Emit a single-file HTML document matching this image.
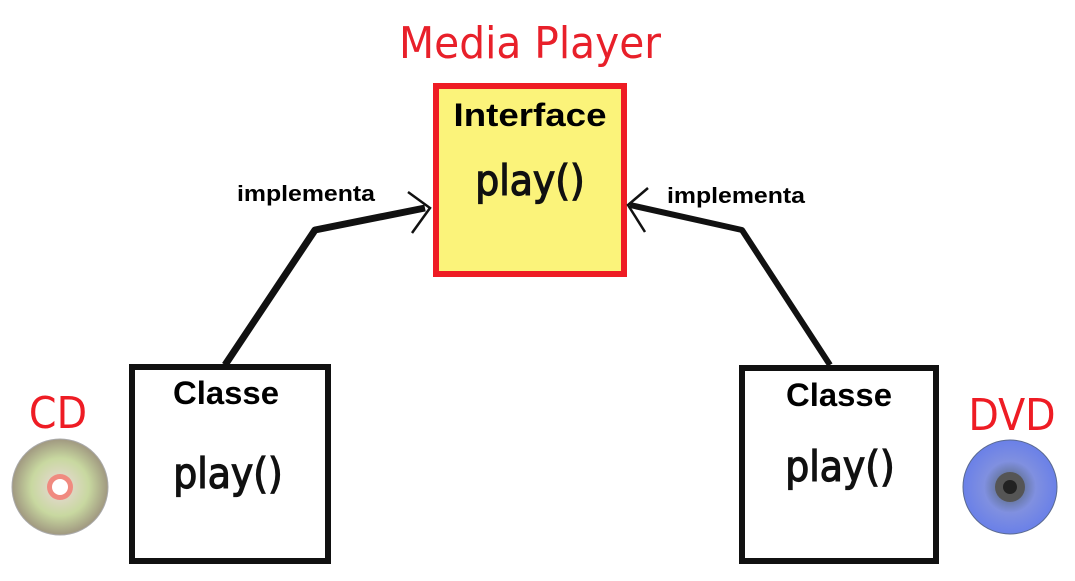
<!DOCTYPE html>
<html><head><meta charset="utf-8"><style>
html,body{margin:0;padding:0;background:#fff;width:1075px;height:581px;overflow:hidden}
svg{display:block}
.hand{font-family:"DejaVu Sans Condensed","DejaVu Sans",sans-serif}
.b{font-family:"Liberation Sans",sans-serif;font-weight:bold}
</style></head><body>
<svg width="1075" height="581" viewBox="0 0 1075 581">
<defs>
<radialGradient id="cd" cx="50%" cy="50%" r="50%">
<stop offset="0.2" stop-color="#e0d8c8"/><stop offset="0.6" stop-color="#c8d8a0"/><stop offset="1" stop-color="#a09880"/>
</radialGradient>
<radialGradient id="dvd" cx="50%" cy="50%" r="50%">
<stop offset="0.2" stop-color="#607090"/><stop offset="0.55" stop-color="#8090e0"/><stop offset="1" stop-color="#6a80e8"/>
</radialGradient>
</defs>
<text x="530" y="58" text-anchor="middle" class="hand" font-size="44" fill="#e8202a" textLength="262" lengthAdjust="spacingAndGlyphs">Media Player</text>
<rect x="436" y="86" width="188" height="188" fill="#fbf37a" stroke="#ee1c24" stroke-width="6"/>
<text x="530" y="126" text-anchor="middle" class="b" font-size="32" textLength="153" lengthAdjust="spacingAndGlyphs">Interface</text>
<text x="530" y="195" text-anchor="middle" class="hand" font-size="42" fill="#111" stroke="#111" stroke-width="1.2">play()</text>

<rect x="132" y="367" width="196" height="194" fill="#fff" stroke="#111" stroke-width="6"/>
<text x="226" y="404" text-anchor="middle" class="b" font-size="32" textLength="106" lengthAdjust="spacingAndGlyphs">Classe</text>
<text x="228" y="488" text-anchor="middle" class="hand" font-size="42" fill="#111" stroke="#111" stroke-width="1.2">play()</text>

<rect x="742" y="368" width="194" height="193" fill="#fff" stroke="#111" stroke-width="6"/>
<text x="839" y="406" text-anchor="middle" class="b" font-size="32" textLength="106" lengthAdjust="spacingAndGlyphs">Classe</text>
<text x="840" y="481" text-anchor="middle" class="hand" font-size="42" fill="#111" stroke="#111" stroke-width="1.2">play()</text>

<polyline points="225,365 315,230 425,208" fill="none" stroke="#111" stroke-width="7" stroke-linejoin="round"/>
<polyline points="408,192 430,208 412,233" fill="none" stroke="#111" stroke-width="2.5"/>
<polyline points="830,365 742,230 630,205" fill="none" stroke="#111" stroke-width="6" stroke-linejoin="round"/>
<polyline points="648,188 628,205 645,232" fill="none" stroke="#111" stroke-width="2.5"/>
<text x="237" y="201" class="b" font-size="22" textLength="138" lengthAdjust="spacingAndGlyphs">implementa</text>
<text x="667" y="203" class="b" font-size="22" textLength="138" lengthAdjust="spacingAndGlyphs">implementa</text>

<text x="58" y="428" text-anchor="middle" class="hand" font-size="44" fill="#ee1c24">CD</text>
<circle cx="60" cy="487" r="48" fill="url(#cd)" stroke="#aaa" stroke-width="1"/>
<circle cx="60" cy="487" r="13" fill="#f08a80"/>
<circle cx="60" cy="487" r="8" fill="#fff"/>

<text x="1012" y="430" text-anchor="middle" class="hand" font-size="44" fill="#ee1c24">DVD</text>
<circle cx="1010" cy="487" r="47" fill="url(#dvd)" stroke="#5a6a90" stroke-width="1"/>
<circle cx="1010" cy="487" r="15" fill="#555"/>
<circle cx="1010" cy="487" r="7" fill="#222"/>
</svg>
</body></html>
